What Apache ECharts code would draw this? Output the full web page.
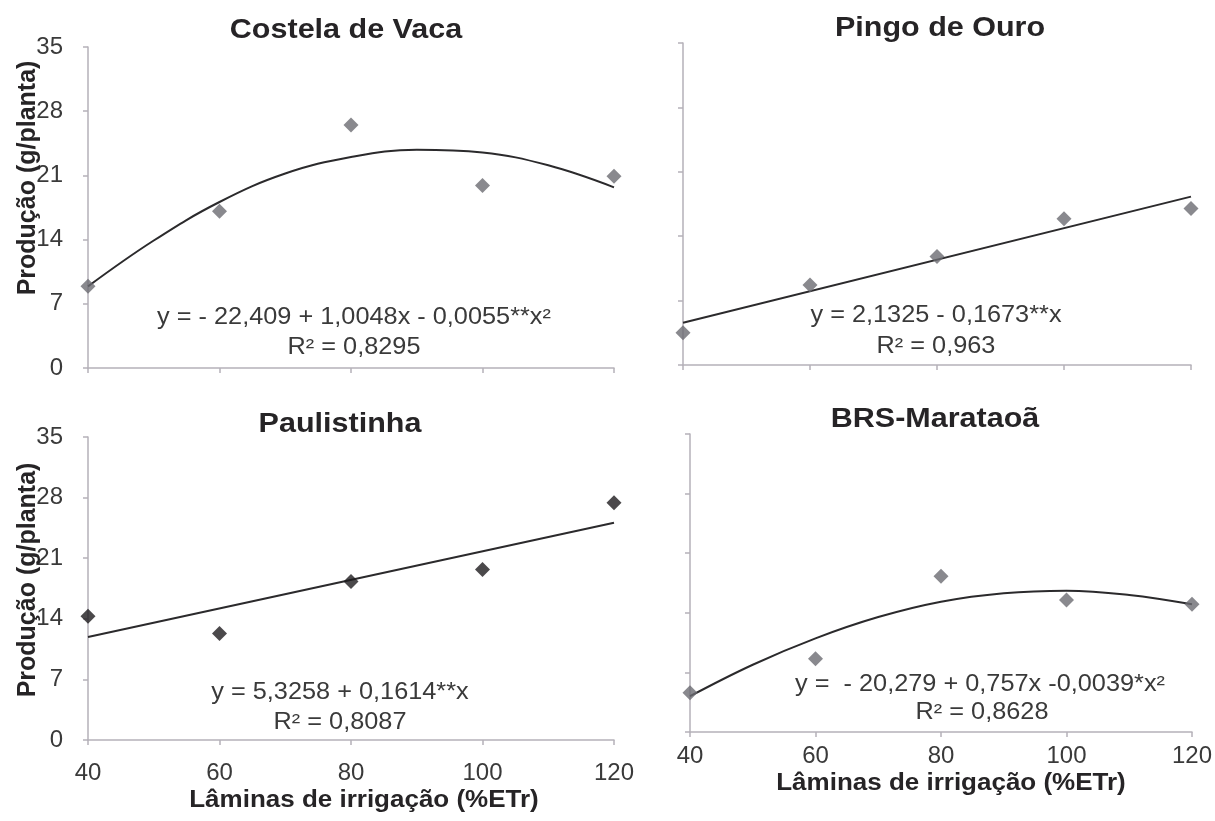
<!DOCTYPE html>
<html><head><meta charset="utf-8">
<script src="https://cdn.jsdelivr.net/npm/echarts@6/dist/echarts.min.js"></script>
<style>html,body{margin:0;padding:0;background:#fff}#c{width:1215px;height:821px}</style>
</head><body><div id="c"></div>
<script>
// ---- data ----
const xLevels = [40, 60, 80, 100, 120];
const yTicks = [0, 7, 14, 21, 28, 35];
const trendX = [40, 50, 60, 70, 80, 90, 100, 110, 120];
const lineX = [40, 120];

const costelaObs = [8.9, 17.1, 26.5, 19.9, 20.9];
const costelaTrend = [8.9, 13.9, 18.1, 21.2, 23.0, 23.8, 23.5, 22.1, 19.7];

const pingoObs = [3.5, 8.7, 11.8, 15.9, 17.0];
const pingoTrend = [4.6, 18.3];

const paulObs = [14.3, 12.3, 18.3, 19.7, 27.4];
const paulTrend = [11.9, 25.1];

const brsObs = [4.6, 8.6, 18.3, 15.5, 15.0];
const brsTrend = [4.2, 7.9, 11.0, 13.5, 15.3, 16.3, 16.6, 16.1, 15.0];

const titles = ['Costela de Vaca', 'Pingo de Ouro', 'Paulistinha', 'BRS-Marataoã'];
const equations = [
  ['y = - 22,409 + 1,0048x - 0,0055**x²', 'R² = 0,8295'],
  ['y = 2,1325 - 0,1673**x', 'R² = 0,963'],
  ['y = 5,3258 + 0,1614**x', 'R² = 0,8087'],
  ['y =  - 20,279 + 0,757x -0,0039*x²', 'R² = 0,8628']
];
const yName = 'Produção (g/planta)';
const xName = 'Lâminas de irrigação (%ETr)';

// ---- build ----
const zip = (xs, ys) => xs.map((x, i) => [x, ys[i]]);
const grids = [
  {left: 88, top: 47, width: 526, height: 321},
  {left: 683, top: 43, width: 508, height: 322},
  {left: 88, top: 437, width: 526, height: 303},
  {left: 690, top: 434, width: 504, height: 298}
];
const axisCol = '#b5b1b9';
const labCol = '#3a3a3a';
const FONT = '"Liberation Sans", Arial, sans-serif';

const xAxes = grids.map((g, i) => ({
  gridIndex: i, type: 'value', min: 40, max: 120, interval: 20,
  axisLine: {show: true, lineStyle: {color: axisCol, width: 1.5}},
  axisTick: {show: true, length: 5, lineStyle: {color: axisCol, width: 1.5}},
  splitLine: {show: false},
  axisLabel: {show: i >= 2, color: labCol, fontSize: 24, fontFamily: FONT, margin: i === 2 ? 21 : 12}
}));
const yAxes = grids.map((g, i) => ({
  gridIndex: i, type: 'value', min: 0, max: 35, interval: 7,
  axisLine: {show: true, lineStyle: {color: axisCol, width: 1.5}},
  axisTick: {show: true, length: 5, lineStyle: {color: axisCol, width: 1.5}},
  splitLine: {show: false},
  axisLabel: {show: i === 0 || i === 2, color: labCol, fontSize: 24, fontFamily: FONT, margin: 25}
}));

const obsSets = [costelaObs, pingoObs, paulObs, brsObs];
const trendSets = [[trendX, costelaTrend], [lineX, pingoTrend], [lineX, paulTrend], [trendX, brsTrend]];
const markerCols = ['#6c6b72', '#6c6b72', '#1e1c1e', '#6c6b72'];
const series = [];
obsSets.forEach((obs, i) => {
  series.push({
    type: 'line', xAxisIndex: i, yAxisIndex: i, smooth: 0.4,
    data: zip(trendSets[i][0], trendSets[i][1]),
    showSymbol: false, lineStyle: {color: '#2b2a2c', width: 2}, z: 2, silent: true
  });
  series.push({
    type: 'scatter', xAxisIndex: i, yAxisIndex: i,
    data: zip(xLevels, obs), symbol: 'diamond', symbolSize: 15,
    itemStyle: {color: markerCols[i]}, z: 3
  });
});

function txt(x, y, text, size, bold, opts) {
  opts = opts || {};
  return {
    type: 'text', x: x, y: y, rotation: opts.rot || 0, scaleX: opts.sx || 1,
    style: {x: 0, y: 0, text: text, fill: opts.fill || '#2a2a2a',
      font: (bold ? 'bold ' : '') + size + 'px ' + FONT, align: 'center', verticalAlign: 'middle'},
    z: 10
  };
}
const titlePos = [[346, 31], [940, 29], [340, 425], [935, 420]];
const eqPos = [[[354, 318], [354, 348]], [[936, 316], [936, 347]], [[340, 693], [340, 723]], [[980, 685], [982, 713]]];
const graphic = [];
titles.forEach((t, i) => graphic.push(txt(titlePos[i][0], titlePos[i][1], t, 27, true, {sx: 1.13, fill: '#262426'})));
equations.forEach((e, i) => {
  graphic.push(txt(eqPos[i][0][0], eqPos[i][0][1], e[0], 23, false, {sx: 1.1, fill: '#3a3a3a'}));
  graphic.push(txt(eqPos[i][1][0], eqPos[i][1][1], e[1], 23, false, {sx: 1.1, fill: '#3a3a3a'}));
});
graphic.push(txt(28, 178, yName, 25, true, {rot: Math.PI / 2, fill: '#262426'}));
graphic.push(txt(28, 580, yName, 25, true, {rot: Math.PI / 2, fill: '#262426'}));
graphic.push(txt(364, 801, xName, 23, true, {sx: 1.13, fill: '#262426'}));
graphic.push(txt(951, 784, xName, 23, true, {sx: 1.13, fill: '#262426'}));

const chart = echarts.init(document.getElementById('c'), null, {renderer: 'canvas'});
chart.setOption({
  animation: false,
  backgroundColor: '#ffffff',
  grid: grids.map(g => Object.assign({containLabel: false}, g)),
  xAxis: xAxes, yAxis: yAxes, series: series, graphic: graphic
});
</script></body></html>
